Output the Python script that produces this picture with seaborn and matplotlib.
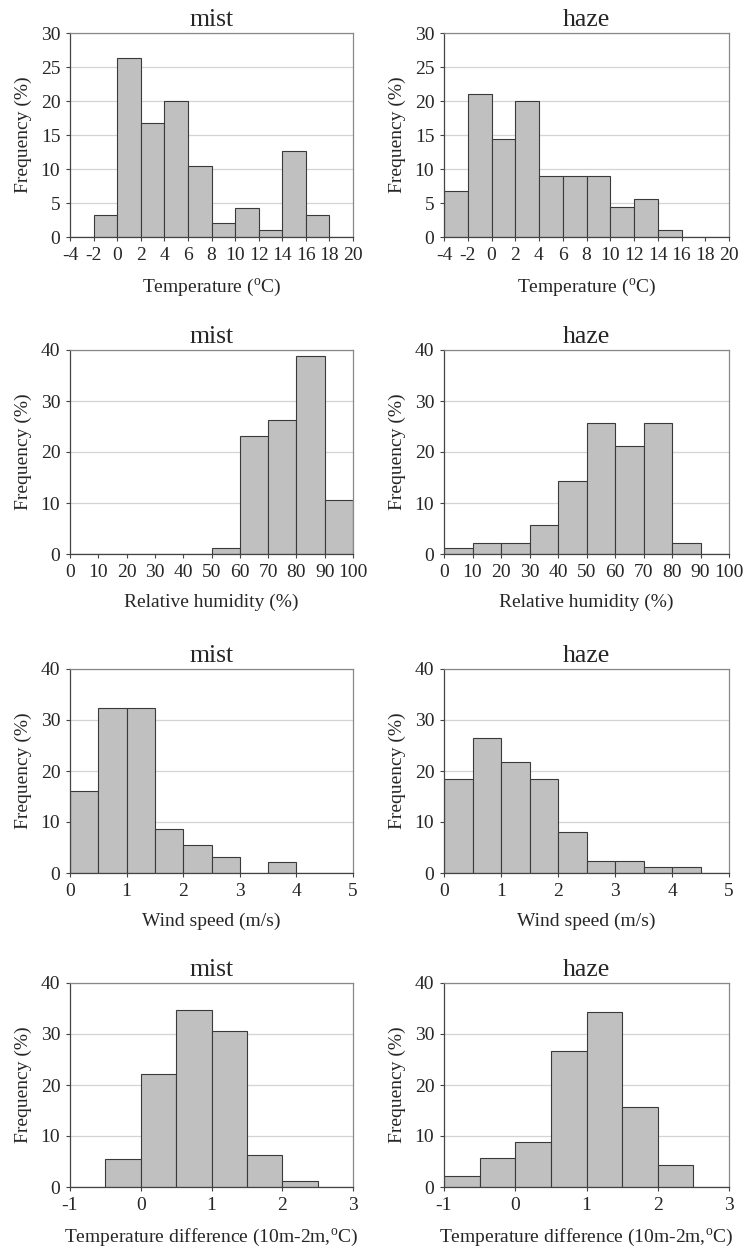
import numpy as np
import pandas as pd
import matplotlib
matplotlib.use("Agg")
import matplotlib.pyplot as plt
import seaborn as sns

# bin edges for each variable
TEMP_EDGES = [-4, -2, 0, 2, 4, 6, 8, 10, 12, 14, 16, 18, 20]
RH_EDGES = [0, 10, 20, 30, 40, 50, 60, 70, 80, 90, 100]
WIND_EDGES = [0, 0.5, 1, 1.5, 2, 2.5, 3, 3.5, 4, 4.5, 5]
DT_EDGES = [-1, -0.5, 0, 0.5, 1, 1.5, 2, 2.5, 3]

# frequency (%) per bin
mist_temp = [0, 3.2, 26.3, 16.8, 20.0, 10.5, 2.1, 4.2, 1.1, 12.6, 3.2, 0]
haze_temp = [6.7, 21.1, 14.4, 20.0, 8.9, 8.9, 8.9, 4.4, 5.6, 1.1, 0, 0]
mist_rh = [0, 0, 0, 0, 0, 1.1, 23.2, 26.3, 38.9, 10.5]
haze_rh = [1.1, 2.2, 2.2, 5.6, 14.4, 25.6, 21.1, 25.6, 2.2, 0]
mist_wind = [16.1, 32.3, 32.3, 8.6, 5.4, 3.2, 0, 2.2, 0, 0]
haze_wind = [18.4, 26.4, 21.8, 18.4, 8.0, 2.3, 2.3, 1.1, 1.1, 0]
mist_dt = [0, 5.4, 22.1, 34.7, 30.5, 6.3, 1.1, 0]
haze_dt = [2.2, 5.6, 8.9, 26.7, 34.4, 15.6, 4.4, 0]

ROWS = [
    (TEMP_EDGES, mist_temp, haze_temp, r"Temperature ($^\mathrm{o}$C)", 30, 5),
    (RH_EDGES, mist_rh, haze_rh, "Relative humidity (%)", 40, 10),
    (WIND_EDGES, mist_wind, haze_wind, "Wind speed (m/s)", 40, 10),
    (DT_EDGES, mist_dt, haze_dt, r"Temperature difference (10m-2m,$^\mathrm{o}$C)", 40, 10),
]
XTICK_STEP = [2, 10, 1, 1]

sns.set_style("white")
plt.rcParams["font.family"] = ["Liberation Serif", "DejaVu Serif"]
plt.rcParams["mathtext.fontset"] = "custom"
plt.rcParams["mathtext.rm"] = "Liberation Serif"

W, H = 744, 1257
fig = plt.figure(figsize=(W / 100, H / 100), dpi=100)

lefts = [70, 444]
widths = [283, 285]
tops = [33, 350, 669, 983]
ax_h = 204

for r, (edges, mist, haze, xlabel, ymax, ystep) in enumerate(ROWS):
    for c, (name, vals) in enumerate([("mist", mist), ("haze", haze)]):
        ax = fig.add_axes([lefts[c] / W, 1 - (tops[r] + ax_h) / H, widths[c] / W, ax_h / H])
        edges_arr = np.array(edges, dtype=float)
        df = pd.DataFrame({"mid": (edges_arr[:-1] + edges_arr[1:]) / 2, "pct": vals})
        ax.yaxis.grid(True, color="#d4d4d4", lw=0.9)
        ax.set_axisbelow(True)
        sns.histplot(data=df, x="mid", weights="pct", bins=list(edges), ax=ax,
                     color="#c0c0c0", edgecolor="#3a3a3a", linewidth=0.8, alpha=1)
        ax.set_xlim(edges[0], edges[-1])
        ax.set_ylim(0, ymax)
        ax.set_yticks(np.arange(0, ymax + 0.1, ystep))
        ax.set_xticks(np.arange(edges[0], edges[-1] + 0.01, XTICK_STEP[r]))
        ax.set_xticklabels([f"{v:g}" for v in ax.get_xticks()])
        ax.set_title(name, fontsize=18.5, pad=5)
        ax.set_xlabel(xlabel, fontsize=14, labelpad=9)
        ax.set_ylabel("Frequency (%)", fontsize=14, labelpad=6)
        ax.tick_params(axis="both", labelsize=14, direction="out", length=3,
                       width=0.8, color="#444444", bottom=True, left=True, pad=4)
        for side in ["left", "bottom"]:
            ax.spines[side].set_color("#444444")
            ax.spines[side].set_linewidth(0.9)
        for side in ["top", "right"]:
            ax.spines[side].set_color("#888888")
            ax.spines[side].set_linewidth(0.9)

fig.savefig("out.png", dpi=100)
